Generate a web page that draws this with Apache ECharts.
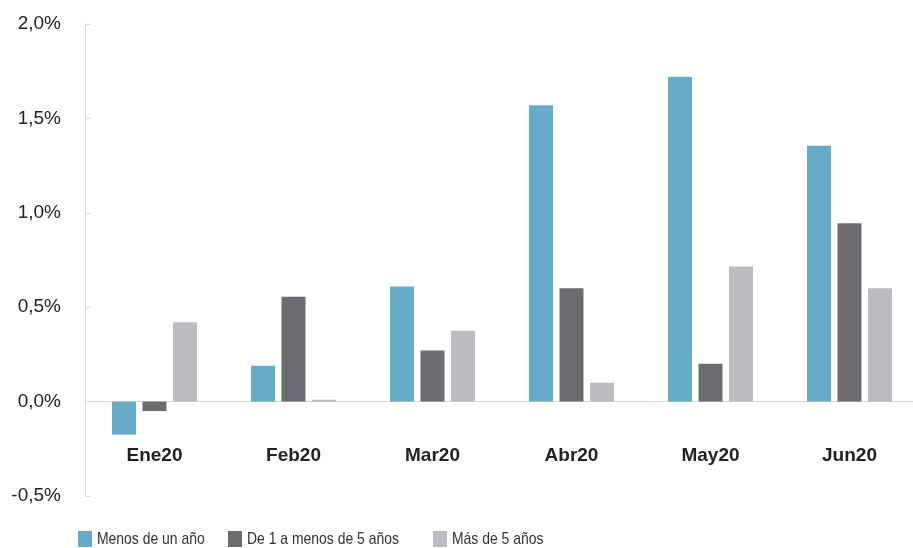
<!DOCTYPE html>
<html>
<head>
<meta charset="utf-8">
<script src="https://cdn.jsdelivr.net/npm/echarts@6/dist/echarts.min.js"></script>
<style>
  html, body { margin: 0; padding: 0; background: #ffffff; }
  #chart { width: 913px; height: 548px; }
</style>
</head>
<body>
<div id="chart"></div>
<script>
// Monthly change by maturity bucket (%)
const months = ['Ene20', 'Feb20', 'Mar20', 'Abr20', 'May20', 'Jun20'];
const seriesNames = ['Menos de un año', 'De 1 a menos de 5 años', 'Más de 5 años'];
const menosDeUnAno = [-0.175, 0.19, 0.61, 1.57, 1.72, 1.355];
const deUnoACinco = [-0.05, 0.555, 0.27, 0.60, 0.20, 0.945];
const masDeCinco = [0.42, 0.01, 0.375, 0.10, 0.715, 0.60];
const yTicks = { min: -0.5, max: 2.0, step: 0.5 };

const colors = ['#68abc8', '#6b6c70', '#bbbcc0'];
const legendFont = '"Liberation Sans", Arial, sans-serif';
const axisFont = '"Liberation Sans", Arial, sans-serif';
const legendLefts = [78, 228, 433];

const chart = echarts.init(document.getElementById('chart'), null, { renderer: 'canvas' });

// Legend swatches come from the legend component; the labels are drawn
// as horizontally condensed text next to them.
function legendAt(name, left) {
  return {
    data: [name],
    left: left,
    top: 531,
    icon: 'rect',
    itemWidth: 14,
    itemHeight: 16,
    itemGap: 0,
    padding: 0,
    formatter: () => '',
    textStyle: { fontSize: 1 }
  };
}

function legendLabel(name, left) {
  return {
    type: 'text',
    x: left + 19,
    y: 539,
    scaleX: 0.82,
    silent: true,
    style: {
      text: name,
      font: '17px ' + legendFont,
      fill: '#333333',
      textAlign: 'left',
      textVerticalAlign: 'middle'
    }
  };
}

const values = [menosDeUnAno, deUnoACinco, masDeCinco];

chart.setOption({
  animation: false,
  color: colors,
  grid: { left: 85, right: -6, top: 24, bottom: 52, containLabel: false, outerBoundsMode: 'none' },
  legend: seriesNames.map((n, i) => legendAt(n, legendLefts[i])),
  graphic: seriesNames.map((n, i) => legendLabel(n, legendLefts[i])),
  xAxis: {
    type: 'category',
    data: months,
    axisLine: { onZero: true, lineStyle: { color: '#d4d4d4', width: 1 } },
    axisTick: { show: false },
    axisLabel: {
      margin: -50,
      fontFamily: axisFont,
      fontSize: 19,
      fontWeight: 'bold',
      color: '#222222'
    },
    splitLine: { show: false }
  },
  yAxis: {
    type: 'value',
    min: yTicks.min,
    max: yTicks.max,
    interval: yTicks.step,
    axisLine: { show: true, lineStyle: { color: '#d9d9d9', width: 1 } },
    axisTick: { show: true, inside: true, length: 6, lineStyle: { color: '#d9d9d9' } },
    axisLabel: {
      margin: 24,
      fontFamily: axisFont,
      fontSize: 19,
      color: '#222222',
      formatter: v => v.toFixed(1).replace('.', ',') + '%'
    },
    splitLine: { show: false }
  },
  series: seriesNames.map((name, i) => ({
    name: name,
    type: 'bar',
    data: values[i],
    barWidth: 24,
    barGap: '27%',
    itemStyle: { color: colors[i] }
  }))
});
</script>
</body>
</html>
